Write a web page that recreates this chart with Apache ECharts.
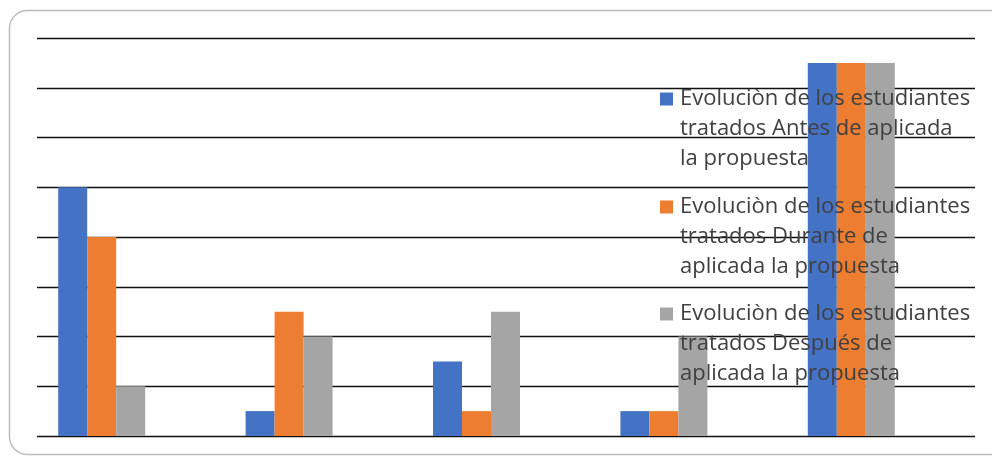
<!DOCTYPE html>
<html>
<head>
<meta charset="utf-8">
<script src="https://cdn.jsdelivr.net/npm/echarts@6/dist/echarts.min.js"></script>
<style>
  html, body { margin: 0; padding: 0; background: #fff; }
  #chart { width: 992px; height: 457px; }
</style>
</head>
<body>
<div id="chart"></div>
<script>
// datos
var categorias = ['1', '2', '3', '4', '5'];
var nombres = [
    'Evoluciòn de los estudiantes tratados Antes de aplicada la propuesta',
    'Evoluciòn de los estudiantes tratados Durante de aplicada la propuesta',
    'Evoluciòn de los estudiantes tratados Después de aplicada la propuesta'
];
var lineasLeyenda = [
    'Evoluciòn de los estudiantes\ntratados Antes de aplicada\nla propuesta',
    'Evoluciòn de los estudiantes\ntratados Durante de\naplicada la propuesta',
    'Evoluciòn de los estudiantes\ntratados Después de\naplicada la propuesta'
];
var antes = [5, 0.5, 1.5, 0.5, 7.5];
var durante = [4, 2.5, 0.5, 0.5, 7.5];
var despues = [1, 2, 2.5, 2, 7.5];
var colores = ['#4472c4', '#ed7d31', '#a5a5a5'];

var chart = echarts.init(document.getElementById('chart'));

// una leyenda por serie; dos lineas vacias delante para que el cuadro quede en la primera linea
var legendTops = [99, 207, 314];
var legends = nombres.map(function (n, i) {
    return {
        data: [n],
        orient: 'vertical',
        left: 660,
        top: legendTops[i] - 75,
        padding: 0,
        itemWidth: 13,
        itemHeight: 13,
        itemGap: 0,
        icon: 'rect',
        selectedMode: false,
        formatter: function () { return '\n\n' + lineasLeyenda[i]; },
        textStyle: {
            fontFamily: 'Open Sans',
            fontSize: 22,
            color: '#404040',
            lineHeight: 30,
            padding: [0, 0, 0, 2]
        }
    };
});

var option = {
    backgroundColor: '#fff',
    animation: false,
    color: colores,
    graphic: [{
        type: 'rect',
        shape: { x: 9.5, y: 10.5, width: 1000, height: 444, r: 18 },
        style: { fill: 'none', stroke: '#bdbdbd', lineWidth: 1.5 },
        silent: true
    }],
    legend: legends,
    grid: [
        { left: 37, right: 17, top: 38, bottom: 21 },
        { left: 8, right: 47, top: 38, bottom: 21 }
    ],
    xAxis: [
        { gridIndex: 0, type: 'value', min: 0, max: 1, show: false },
        {
            gridIndex: 1, type: 'category', data: categorias,
            axisLine: { show: false }, axisTick: { show: false },
            axisLabel: { show: false }, splitLine: { show: false }
        }
    ],
    yAxis: [
        {
            gridIndex: 0, type: 'value', min: 0, max: 8, interval: 1,
            axisLine: { show: false }, axisTick: { show: false },
            axisLabel: { show: false },
            splitLine: { lineStyle: { color: '#111', width: 1.3 } }
        },
        {
            gridIndex: 1, type: 'value', min: 0, max: 8, interval: 1,
            show: false
        }
    ],
    series: [
        { name: nombres[0], type: 'bar', xAxisIndex: 1, yAxisIndex: 1, data: antes, barWidth: 29, barGap: 0 },
        { name: nombres[1], type: 'bar', xAxisIndex: 1, yAxisIndex: 1, data: durante, barWidth: 29, barGap: 0 },
        { name: nombres[2], type: 'bar', xAxisIndex: 1, yAxisIndex: 1, data: despues, barWidth: 29, barGap: 0 }
    ]
};

chart.setOption(option);
</script>
</body>
</html>
